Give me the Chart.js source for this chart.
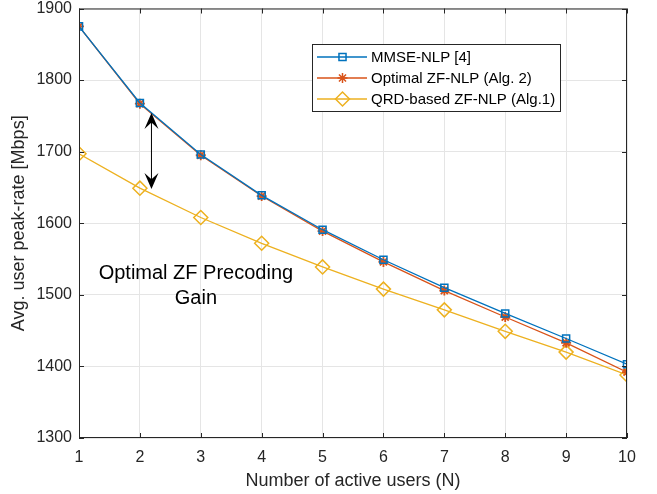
<!DOCTYPE html>
<html>
<head>
<meta charset="utf-8">
<script src="https://cdn.jsdelivr.net/npm/chart.js@4/dist/chart.umd.min.js"></script>
<style>
  html, body { margin: 0; padding: 0; background: #fff; }
  #wrap { width: 657px; height: 494px; }
</style>
</head>
<body>
<div id="wrap"><canvas id="c"></canvas></div>
<script>
// data
const users = [1, 2, 3, 4, 5, 6, 7, 8, 9, 10];
const mmseNlp = [1875, 1768, 1696, 1639, 1591, 1549, 1510, 1474, 1439, 1403];
const optimalZf = [1875, 1767, 1695, 1638, 1589, 1546, 1506, 1469, 1433, 1392];
const qrdZf = [1697, 1649, 1608, 1572, 1539, 1508, 1479, 1449, 1420, 1388];
const yTicks = [1300, 1400, 1500, 1600, 1700, 1800, 1900];

// annotation (data units)
const arrowX = 2.19;
const arrowY = [1754, 1648];
const noteX = 2.92;
const noteLines = ['Optimal ZF Precoding', 'Gain'];
const noteY = [1530, 1495];

const FONT = "'Liberation Sans', Arial, Helvetica, sans-serif";
const AXIS = '#262626';

function toXY(arr) {
    return users.map((u, i) => ({ x: u, y: arr[i] }));
}

// box, inward ticks, arrow, text, legend
const matlabLook = {
    id: 'matlabLook',
    afterDatasetsDraw(chart) {
        const { ctx, chartArea: a, scales: { x, y } } = chart;
        ctx.save();

        // box + ticks
        ctx.strokeStyle = AXIS;
        ctx.lineWidth = 1;
        ctx.strokeRect(a.left + 0.5, a.top + 0.5, a.right - a.left - 1, a.bottom - a.top - 1);
        ctx.beginPath();
        users.forEach(u => {
            const px = Math.round(x.getPixelForValue(u)) + 0.5;
            ctx.moveTo(px, a.bottom); ctx.lineTo(px, a.bottom - 5);
            ctx.moveTo(px, a.top); ctx.lineTo(px, a.top + 5);
        });
        yTicks.forEach(v => {
            const py = Math.round(y.getPixelForValue(v)) + 0.5;
            ctx.moveTo(a.left, py); ctx.lineTo(a.left + 5, py);
            ctx.moveTo(a.right, py); ctx.lineTo(a.right - 5, py);
        });
        ctx.stroke();

        // double arrow
        const ax = x.getPixelForValue(arrowX);
        const y1 = y.getPixelForValue(arrowY[0]);
        const y2 = y.getPixelForValue(arrowY[1]);
        ctx.strokeStyle = '#000';
        ctx.fillStyle = '#000';
        ctx.lineWidth = 1;
        ctx.beginPath();
        ctx.moveTo(ax, y1 + 8); ctx.lineTo(ax, y2 - 8);
        ctx.stroke();
        function head(tipY, dir) {
            const L = 16, W = 7;
            ctx.beginPath();
            ctx.moveTo(ax, tipY);
            ctx.lineTo(ax - W, tipY + dir * L);
            ctx.lineTo(ax, tipY + dir * L * 0.6);
            ctx.lineTo(ax + W, tipY + dir * L);
            ctx.closePath();
            ctx.fill();
        }
        head(y1, 1);
        head(y2, -1);

        // text note
        ctx.font = '20px ' + FONT;
        ctx.fillStyle = '#000';
        ctx.textAlign = 'center';
        ctx.textBaseline = 'middle';
        noteLines.forEach((t, i) => {
            ctx.fillText(t, x.getPixelForValue(noteX), y.getPixelForValue(noteY[i]));
        });

        // legend box
        const lx = 312, ly = 44, lw = 248, lh = 67;
        ctx.fillStyle = '#fff';
        ctx.fillRect(lx, ly, lw, lh);
        ctx.strokeStyle = AXIS;
        ctx.lineWidth = 1;
        ctx.strokeRect(lx + 0.5, ly + 0.5, lw, lh);
        ctx.font = '15px ' + FONT;
        ctx.textAlign = 'left';
        ctx.textBaseline = 'middle';
        chart.data.datasets.forEach((ds, i) => {
            const ry = ly + 13 + i * 21;
            ctx.strokeStyle = ds.borderColor;
            ctx.lineWidth = 1.5;
            ctx.beginPath();
            ctx.moveTo(317, ry); ctx.lineTo(367, ry);
            ctx.stroke();
            ctx.fillStyle = 'rgba(0,0,0,0)';
            Chart.helpers.drawPoint(ctx, {
                pointStyle: ds.pointStyle,
                radius: ds.pointRadius,
                borderWidth: ds.pointBorderWidth
            }, 342.5, ry);
            ctx.fillStyle = '#000';
            ctx.fillText(ds.label, 371, ry + 1);
        });

        ctx.restore();
    }
};

new Chart(document.getElementById('c'), {
    type: 'line',
    data: {
        datasets: [{
            label: 'MMSE-NLP [4]',
            data: toXY(mmseNlp),
            borderColor: '#0072BD',
            backgroundColor: 'transparent',
            borderWidth: 1.3,
            pointStyle: 'rect',
            pointRadius: 5,
            pointBorderWidth: 1.5,
            pointBackgroundColor: 'transparent',
            pointBorderColor: '#0072BD'
        }, {
            label: 'Optimal ZF-NLP (Alg. 2)',
            data: toXY(optimalZf),
            borderColor: '#D95319',
            backgroundColor: 'transparent',
            borderWidth: 1.3,
            pointStyle: 'star',
            pointRadius: 5,
            pointBorderWidth: 1.8,
            pointBackgroundColor: 'transparent',
            pointBorderColor: '#D95319'
        }, {
            label: 'QRD-based ZF-NLP (Alg.1)',
            data: toXY(qrdZf),
            borderColor: '#EDB120',
            backgroundColor: 'transparent',
            borderWidth: 1.3,
            pointStyle: 'rectRot',
            pointRadius: 7,
            pointBorderWidth: 1.5,
            pointBackgroundColor: 'transparent',
            pointBorderColor: '#EDB120'
        }]
    },
    options: {
        responsive: true,
        maintainAspectRatio: false,
        animation: false,
        layout: {
            padding: { top: 8, right: 30, left: 0, bottom: 0 }
        },
        plugins: {
            legend: { display: false },
            tooltip: { enabled: false }
        },
        scales: {
            x: {
                type: 'linear',
                min: 1,
                max: 10,
                afterFit: s => { s.height = 56; s.paddingLeft = 0; s.paddingRight = 0; },
                afterBuildTicks: s => { s.ticks = users.map(v => ({ value: v })); },
                grid: { color: '#e5e5e5', drawTicks: false },
                border: { display: false },
                ticks: {
                    color: AXIS,
                    padding: 10,
                    maxRotation: 0,
                    callback: v => String(v),
                    font: { family: FONT, size: 16 }
                },
                title: {
                    display: true,
                    text: 'Number of active users (N)',
                    color: AXIS,
                    padding: { top: 0, bottom: 2 },
                    font: { family: FONT, size: 18 }
                }
            },
            y: {
                min: 1300,
                max: 1900,
                afterFit: s => { s.width = 79; s.paddingTop = 0; s.paddingBottom = 0; },
                afterBuildTicks: s => { s.ticks = yTicks.map(v => ({ value: v })); },
                grid: { color: '#e5e5e5', drawTicks: false },
                border: { display: false },
                ticks: {
                    color: AXIS,
                    padding: 7,
                    callback: v => String(v),
                    font: { family: FONT, size: 16 }
                },
                title: {
                    display: true,
                    text: 'Avg. user peak-rate [Mbps]',
                    color: AXIS,
                    padding: { top: 8, bottom: 0 },
                    font: { family: FONT, size: 18 }
                }
            }
        }
    },
    plugins: [matlabLook]
});
</script>
</body>
</html>
